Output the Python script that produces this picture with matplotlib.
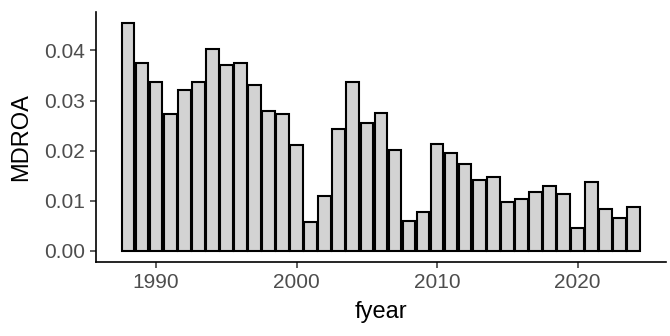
import matplotlib
matplotlib.use("Agg")
import matplotlib.pyplot as plt
import numpy as np
from matplotlib.ticker import FormatStrFormatter

years = np.arange(1988, 2025)
mdroa = [0.0454, 0.0376, 0.0338, 0.0274, 0.0321, 0.0338, 0.0402, 0.0371,
         0.0376, 0.0331, 0.0280, 0.0274, 0.0211, 0.0057, 0.0109, 0.0244,
         0.0338, 0.0256, 0.0275, 0.0201, 0.0059, 0.0077, 0.0213, 0.0195,
         0.0173, 0.0141, 0.0147, 0.0097, 0.0103, 0.0117, 0.0129, 0.0113,
         0.0046, 0.0137, 0.0084, 0.0066, 0.0088]
xticks = [1990, 2000, 2010, 2020]
yticks = [0.00, 0.01, 0.02, 0.03, 0.04]

plt.rcParams['font.family'] = ['Liberation Sans', 'DejaVu Sans']

fig = plt.figure(figsize=(6.7, 3.36), dpi=100)
ax = fig.add_axes([0.143, 0.220, 0.851, 0.744])

width = 0.9
ax.bar(years, mdroa, width, color='#D3D3D3', edgecolor='black', linewidth=1.5)

# ggplot-like expansion of the scales
lo, hi = years[0] - width / 2, years[-1] + width / 2
pad = (hi - lo) * 0.05
ax.set_xlim(lo - pad, hi + pad)
ymax = max(mdroa)
ax.set_ylim(-ymax * 0.05, ymax * 1.05)

ax.set_xticks(xticks)
ax.set_yticks(yticks)
ax.yaxis.set_major_formatter(FormatStrFormatter('%.2f'))

for side in ['top', 'right']:
    ax.spines[side].set_visible(False)
for side in ['left', 'bottom']:
    ax.spines[side].set_linewidth(1.2)
    ax.spines[side].set_color('black')

ax.tick_params(axis='both', length=4.5, width=1.1, color='#333333',
               labelcolor='#4D4D4D', labelsize=15, pad=3.5)

ax.set_xlabel('fyear', fontsize=17, color='black', labelpad=6)
ax.set_ylabel('MDROA', fontsize=17, color='black', labelpad=8)

fig.savefig('out.png', dpi=100)
